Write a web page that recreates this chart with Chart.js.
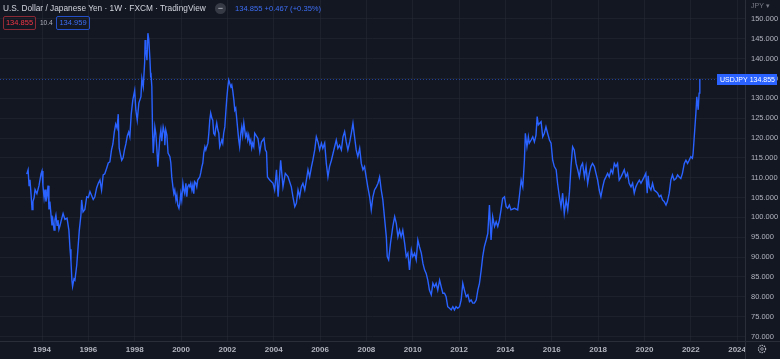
<!DOCTYPE html>
<html>
<head>
<meta charset="utf-8">
<script src="https://cdn.jsdelivr.net/npm/chart.js@4.4.0/dist/chart.umd.min.js"></script>
<style>
  html, body { margin: 0; padding: 0; background: #131722; }
  #wrap { position: relative; width: 780px; height: 359px; overflow: hidden; font-family: 'Liberation Sans', Arial, sans-serif; }
  canvas { display: block; }
  .title { position: absolute; left: 3px; top: 3px; font-size: 8.3px; color: #d1d4dc; white-space: nowrap; }
  .dot { position: absolute; left: 215px; top: 3px; width: 11px; height: 11px; border-radius: 50%; background: #363a45; color: #d1d4dc; font-size: 9px; line-height: 10px; text-align: center; }
  .quote { position: absolute; left: 235px; top: 3.5px; font-size: 7.6px; color: #3d6ef5; white-space: nowrap; }
  .box { position: absolute; top: 16px; height: 12px; border-radius: 2px; font-size: 7.5px; line-height: 12px; text-align: center; }
  .sell { left: 3px; width: 31px; border: 1px solid #8b2a35; color: #f23645; }
  .buy { left: 56px; width: 32px; border: 1px solid #2350c8; color: #3d6ef5; }
  .spread { position: absolute; left: 40px; top: 19px; font-size: 6.5px; color: #b2b5be; }
  .ccy { position: absolute; left: 751px; top: 2px; font-size: 7px; color: #787b86; }
  .gear { position: absolute; left: 756px; top: 343px; }
</style>
</head>
<body>
<div id="wrap">
  <canvas id="chart" width="780" height="359"></canvas>
  <div class="title">U.S. Dollar / Japanese Yen · 1W · FXCM · TradingView</div>
  <div class="dot">−</div>
  <div class="quote">134.855 +0.467 (+0.35%)</div>
  <div class="box sell">134.855</div>
  <div class="spread">10.4</div>
  <div class="box buy">134.959</div>
  <div class="ccy">JPY ▾</div>
  <svg class="gear" width="12" height="12" viewBox="0 0 12 12">
    <circle cx="6" cy="6" r="3.6" fill="none" stroke="#b2b5be" stroke-width="1.2" stroke-dasharray="1.4 0.9"/>
    <circle cx="6" cy="6" r="1.3" fill="none" stroke="#b2b5be" stroke-width="0.8"/>
  </svg>
</div>
<script>
// weekly closes, [year, price]
const usdjpy1993to1997 = [
  [1993.34,110.9],[1993.40,112.0],[1993.44,108.0],[1993.48,109.5],[1993.53,105.6],[1993.57,102.0],[1993.61,104.0],[1993.66,105.0],
  [1993.70,107.0],[1993.78,106.0],[1993.87,108.0],[1993.96,111.0],
  [1994.00,111.7],[1994.04,108.0],[1994.09,105.0],[1994.13,107.0],[1994.17,104.0],[1994.22,105.6],[1994.26,108.0],[1994.30,102.0],
  [1994.34,104.0],[1994.39,100.5],[1994.43,98.0],[1994.47,99.3],[1994.52,96.8],[1994.56,99.5],[1994.60,100.6],[1994.65,98.0],
  [1994.69,99.3],[1994.73,97.0],[1994.78,98.0],[1994.82,99.0],[1994.91,101.0],[1994.99,99.5],
  [1995.08,99.8],[1995.16,96.8],[1995.21,92.0],[1995.25,89.0],[1995.29,84.2],[1995.32,82.6],[1995.38,84.5],[1995.42,84.2],
  [1995.50,88.0],[1995.55,92.0],[1995.61,96.8],[1995.68,100.6],[1995.71,104.4],[1995.77,101.4],[1995.85,102.0],[1995.93,105.2],
  [1996.00,105.0],[1996.07,106.5],[1996.14,105.5],[1996.21,104.5],[1996.28,105.2],[1996.36,107.5],[1996.43,108.6],[1996.50,109.4],
  [1996.57,106.9],[1996.64,110.7],[1996.71,111.0],[1996.79,112.4],[1996.86,113.7],[1996.93,114.0],
  [1997.00,117.0],[1997.06,118.5],[1997.12,121.5],[1997.18,123.5],[1997.24,122.5],[1997.29,126.0],[1997.33,117.5],[1997.38,116.0],
  [1997.44,114.4],[1997.50,115.0],[1997.56,117.0],[1997.62,118.5],[1997.68,120.5],[1997.74,121.5],[1997.79,120.3],[1997.85,126.0],
  [1997.92,129.6]
];

const usdjpy1998to2002 = [
  [1998.00,132.0],[1998.05,127.0],[1998.11,124.5],[1998.18,128.8],[1998.27,130.4],[1998.31,135.0],[1998.37,132.9],[1998.43,139.0],
  [1998.45,144.7],[1998.48,142.2],[1998.53,139.6],[1998.57,146.4],[1998.61,144.7],[1998.66,139.6],[1998.69,135.4],[1998.70,136.4],
  [1998.74,132.9],[1998.77,122.0],[1998.80,116.2],[1998.87,122.8],[1998.91,121.2],[1998.96,117.0],
  [1999.00,112.8],[1999.04,116.2],[1999.09,120.3],[1999.13,122.0],[1999.17,119.2],[1999.23,122.8],[1999.29,121.2],[1999.30,118.2],
  [1999.34,122.0],[1999.39,120.7],[1999.44,116.2],[1999.52,115.3],[1999.56,113.7],[1999.60,110.2],[1999.65,107.7],[1999.69,106.0],
  [1999.73,106.9],[1999.78,104.4],[1999.82,105.6],[1999.86,103.1],[1999.91,102.3],[1999.95,103.6],[1999.99,106.0],
  [2000.03,104.4],[2000.08,108.6],[2000.12,106.9],[2000.16,106.0],[2000.21,108.6],[2000.25,105.2],[2000.29,107.7],[2000.34,108.2],
  [2000.38,107.7],[2000.42,108.6],[2000.47,106.9],[2000.51,108.2],[2000.55,106.0],[2000.59,109.0],[2000.64,108.6],[2000.68,107.7],
  [2000.72,109.4],[2000.81,110.2],[2000.85,111.2],[2000.90,112.8],[2000.94,113.7],[2000.98,116.2],
  [2001.03,117.8],[2001.07,117.0],[2001.11,117.8],[2001.16,118.7],[2001.20,121.2],[2001.24,124.5],[2001.28,126.3],[2001.33,125.0],
  [2001.37,124.5],[2001.41,121.2],[2001.46,120.7],[2001.50,122.5],[2001.54,123.8],[2001.59,122.0],[2001.63,121.2],[2001.67,117.8],
  [2001.72,118.7],[2001.76,119.5],[2001.80,118.7],[2001.84,121.2],[2001.89,122.8],[2001.93,126.3],[2001.97,129.6],
  [2002.02,132.9],[2002.06,134.6],[2002.10,133.8],[2002.15,132.9],[2002.19,133.4],[2002.23,132.0],[2002.28,129.6],[2002.32,127.0],
  [2002.36,127.5],[2002.41,124.5],[2002.45,122.0],[2002.49,119.5],[2002.53,117.8],[2002.58,121.2],[2002.62,122.8],[2002.66,120.7],
  [2002.71,123.8],[2002.75,122.0],[2002.79,120.3],[2002.84,121.2],[2002.88,119.5],[2002.92,120.7],[2002.97,118.7]
];

const usdjpy2003to2008 = [
  [2003.01,119.5],[2003.05,117.5],[2003.09,118.7],[2003.14,117.8],[2003.18,121.2],[2003.32,119.9],[2003.40,116.5],[2003.47,119.0],
  [2003.58,119.9],[2003.64,117.0],[2003.69,116.5],[2003.73,110.2],[2003.83,109.4],[2003.97,108.6],
  [2004.04,106.9],[2004.12,112.0],[2004.19,105.2],[2004.30,114.4],[2004.40,107.7],[2004.50,111.1],[2004.62,110.2],[2004.76,107.7],
  [2004.83,105.2],[2004.91,102.7],[2004.98,103.6],
  [2005.05,106.9],[2005.12,105.2],[2005.19,107.7],[2005.26,108.6],[2005.34,106.9],[2005.41,109.4],[2005.48,112.0],[2005.55,110.2],
  [2005.63,112.8],[2005.69,114.4],[2005.77,117.0],[2005.84,120.3],[2005.91,119.0],[2005.98,117.0],
  [2006.06,118.7],[2006.12,117.4],[2006.20,118.7],[2006.27,113.6],[2006.34,110.2],[2006.41,112.8],[2006.49,114.4],[2006.56,116.1],
  [2006.63,117.8],[2006.70,119.5],[2006.77,117.4],[2006.84,118.2],[2006.92,117.0],[2006.99,120.3],
  [2007.06,121.6],[2007.13,119.0],[2007.20,117.0],[2007.28,119.0],[2007.35,121.2],[2007.42,123.7],[2007.49,120.3],[2007.56,117.0],
  [2007.63,115.3],[2007.71,117.4],[2007.78,113.6],[2007.85,112.0],[2007.92,112.8],[2007.99,110.2],
  [2008.06,107.7],[2008.14,105.2],[2008.21,101.9],[2008.28,105.2],[2008.35,106.9],[2008.43,107.7],[2008.50,108.6],[2008.57,110.2],
  [2008.64,106.9],[2008.71,104.4],[2008.75,101.9],[2008.86,95.1],[2008.90,90.1],[2008.96,89.3]
];

const usdjpy2009to2014 = [
  [2009.04,93.5],[2009.14,97.7],[2009.22,100.2],[2009.29,98.5],[2009.36,95.1],[2009.43,96.8],[2009.50,95.1],[2009.57,96.8],
  [2009.65,93.5],[2009.72,90.1],[2009.79,91.0],[2009.86,86.8],[2009.94,91.8],
  [2010.00,90.1],[2010.08,91.0],[2010.15,89.3],[2010.22,94.3],[2010.29,92.6],[2010.37,91.0],[2010.44,88.4],[2010.51,86.8],
  [2010.58,85.9],[2010.65,84.2],[2010.72,81.7],[2010.80,80.5],[2010.87,83.4],[2010.94,82.5],
  [2011.01,83.4],[2011.08,81.7],[2011.16,84.2],[2011.23,82.5],[2011.30,80.9],[2011.37,80.9],[2011.44,80.0],[2011.51,77.5],
  [2011.59,77.1],[2011.66,76.7],[2011.73,77.5],[2011.80,76.7],[2011.87,77.5],[2011.94,77.1],
  [2012.02,77.5],[2012.09,79.2],[2012.16,83.4],[2012.23,81.7],[2012.31,80.0],[2012.38,80.5],[2012.45,78.8],[2012.52,79.2],
  [2012.59,78.4],[2012.66,78.4],[2012.74,79.2],[2012.81,81.7],[2012.88,83.4],[2012.95,86.5],
  [2013.02,90.1],[2013.09,92.6],[2013.17,94.3],[2013.24,96.0],[2013.31,103.1],[2013.38,94.3],[2013.45,100.2],[2013.53,97.7],
  [2013.60,98.9],[2013.67,97.7],[2013.74,99.3],[2013.81,101.9],[2013.88,104.8],[2013.96,105.2],
  [2014.03,102.7],[2014.10,102.3],[2014.17,103.1],[2014.24,101.9],[2014.39,102.3],[2014.53,101.9],[2014.60,105.2],[2014.68,109.4],
  [2014.75,107.7],[2014.82,114.4],[2014.86,121.2],[2014.93,117.8],[2014.99,120.3]
];

const usdjpy2015to2022 = [
  [2015.03,118.7],[2015.11,119.5],[2015.18,120.3],[2015.25,119.0],[2015.32,120.7],[2015.37,125.4],[2015.42,123.3],[2015.48,123.7],
  [2015.54,124.1],[2015.61,120.3],[2015.68,121.2],[2015.75,122.8],[2015.82,121.2],[2015.90,119.5],[2015.97,118.7],
  [2016.04,114.4],[2016.11,112.8],[2016.19,112.0],[2016.25,108.6],[2016.33,105.2],[2016.40,102.7],[2016.47,106.1],[2016.54,101.0],
  [2016.62,104.4],[2016.69,101.9],[2016.76,106.1],[2016.83,112.8],[2016.90,117.8],[2016.97,117.0],
  [2017.05,113.6],[2017.12,112.0],[2017.19,110.2],[2017.26,112.8],[2017.33,113.6],[2017.41,110.2],[2017.48,112.8],[2017.55,108.6],
  [2017.62,111.1],[2017.69,112.8],[2017.76,113.6],[2017.84,112.8],[2017.91,111.1],[2017.98,109.4],
  [2018.05,106.9],[2018.12,105.2],[2018.20,107.7],[2018.27,109.4],[2018.34,110.2],[2018.41,111.1],[2018.48,110.2],[2018.56,112.0],
  [2018.63,111.1],[2018.70,113.6],[2018.77,112.8],[2018.84,113.6],[2018.91,109.4],[2018.99,110.2],
  [2019.06,111.1],[2019.13,112.0],[2019.20,110.2],[2019.27,111.1],[2019.34,108.6],[2019.42,107.7],[2019.49,108.6],[2019.56,106.1],
  [2019.63,107.7],[2019.70,108.6],[2019.78,109.4],[2019.85,108.6],[2019.92,109.4],[2019.99,110.2],
  [2020.06,111.1],[2020.12,106.1],[2020.16,110.5],[2020.21,107.7],[2020.28,106.9],[2020.35,108.6],[2020.42,106.9],[2020.50,106.5],
  [2020.57,106.1],[2020.64,105.2],[2020.71,105.6],[2020.78,104.4],[2020.85,104.0],[2020.93,103.1],[2020.99,104.0],
  [2021.07,106.1],[2021.14,109.4],[2021.21,110.7],[2021.28,109.4],[2021.36,109.8],[2021.43,110.7],[2021.50,110.2],[2021.57,109.8],
  [2021.64,111.1],[2021.72,113.6],[2021.79,114.4],[2021.86,113.6],[2021.93,114.4],
  [2022.00,115.3],[2022.07,114.9],[2022.10,116.1],[2022.15,120.3],[2022.22,126.2],[2022.26,130.4],[2022.32,127.1],[2022.36,131.3],
  [2022.39,134.855]
];

const yearTicks = [1994, 1996, 1998, 2000, 2002, 2004, 2006, 2008, 2010, 2012, 2014, 2016, 2018, 2020, 2022, 2024];
const priceTicks = [70, 75, 80, 85, 90, 95, 100, 105, 110, 115, 120, 125, 130, 135, 140, 145, 150];
const symbol = 'USDJPY';
const lastClose = 134.855;

const points = [].concat(usdjpy1993to1997, usdjpy1998to2002, usdjpy2003to2008, usdjpy2009to2014, usdjpy2015to2022)
  .map(([x, y]) => ({ x, y }));

const LINE = '#2962ff';
const GRID = 'rgba(42, 46, 57, 0.45)';

// background, pane borders, last price line and tag
const paneDecor = {
  id: 'paneDecor',
  beforeDraw: (chart) => {
    const { ctx, width, height } = chart;
    ctx.save();
    ctx.fillStyle = '#131722';
    ctx.fillRect(0, 0, width, height);
    ctx.restore();
  },
  afterDraw: (chart) => {
    const { ctx, chartArea: { left, right, top, bottom }, scales: { y } } = chart;
    ctx.save();
    ctx.strokeStyle = '#2a2e39';
    ctx.lineWidth = 1;
    ctx.beginPath();
    ctx.moveTo(left, bottom + 0.5);
    ctx.lineTo(chart.width, bottom + 0.5);
    ctx.moveTo(right + 0.5, top);
    ctx.lineTo(right + 0.5, chart.height);
    ctx.stroke();

    const py = Math.round(y.getPixelForValue(lastClose)) + 0.5;
    ctx.strokeStyle = 'rgba(41, 98, 255, 0.55)';
    ctx.setLineDash([1, 2]);
    ctx.beginPath();
    ctx.moveTo(left, py);
    ctx.lineTo(717, py);
    ctx.stroke();
    ctx.setLineDash([]);

    ctx.fillStyle = LINE;
    ctx.fillRect(717, py - 5.5, 60, 11);
    ctx.fillStyle = '#ffffff';
    ctx.font = '7px "Liberation Sans"';
    ctx.textBaseline = 'middle';
    ctx.textAlign = 'left';
    ctx.fillText(symbol, 720, py + 0.5);
    ctx.textAlign = 'right';
    ctx.fillText(lastClose.toFixed(3), 775, py + 0.5);
    ctx.restore();
  }
};

new Chart(document.getElementById('chart'), {
  type: 'line',
  data: {
    datasets: [{
      data: points,
      borderColor: LINE,
      borderWidth: 1.4,
      pointRadius: 0,
      tension: 0,
      fill: false
    }]
  },
  options: {
    responsive: false,
    animation: false,
    events: [],
    layout: { padding: 0 },
    plugins: { legend: { display: false }, tooltip: { enabled: false } },
    scales: {
      x: {
        type: 'linear',
        min: 1992.187,
        max: 2024.34,
        afterBuildTicks: (scale) => { scale.ticks = yearTicks.map(v => ({ value: v })); },
        afterFit: (scale) => { scale.height = 18; scale.paddingLeft = 0; scale.paddingRight = 0; },
        border: { display: false },
        grid: { color: GRID, drawTicks: false },
        ticks: {
          color: '#b2b5be',
          padding: 4,
          maxRotation: 0,
          font: { family: 'Liberation Sans', size: 8, weight: 'bold' },
          callback: (v) => String(v)
        }
      },
      y: {
        position: 'right',
        min: 68.87,
        max: 154.76,
        afterBuildTicks: (scale) => { scale.ticks = priceTicks.map(v => ({ value: v })); },
        afterFit: (scale) => { scale.width = 35; scale.paddingTop = 0; scale.paddingBottom = 0; },
        border: { display: false },
        grid: { color: GRID, drawTicks: false },
        ticks: {
          color: '#b2b5be',
          padding: 6,
          font: { family: 'Liberation Sans', size: 7.5 },
          callback: (v) => v.toFixed(3)
        }
      }
    }
  },
  plugins: [paneDecor]
});
</script>
</body>
</html>
